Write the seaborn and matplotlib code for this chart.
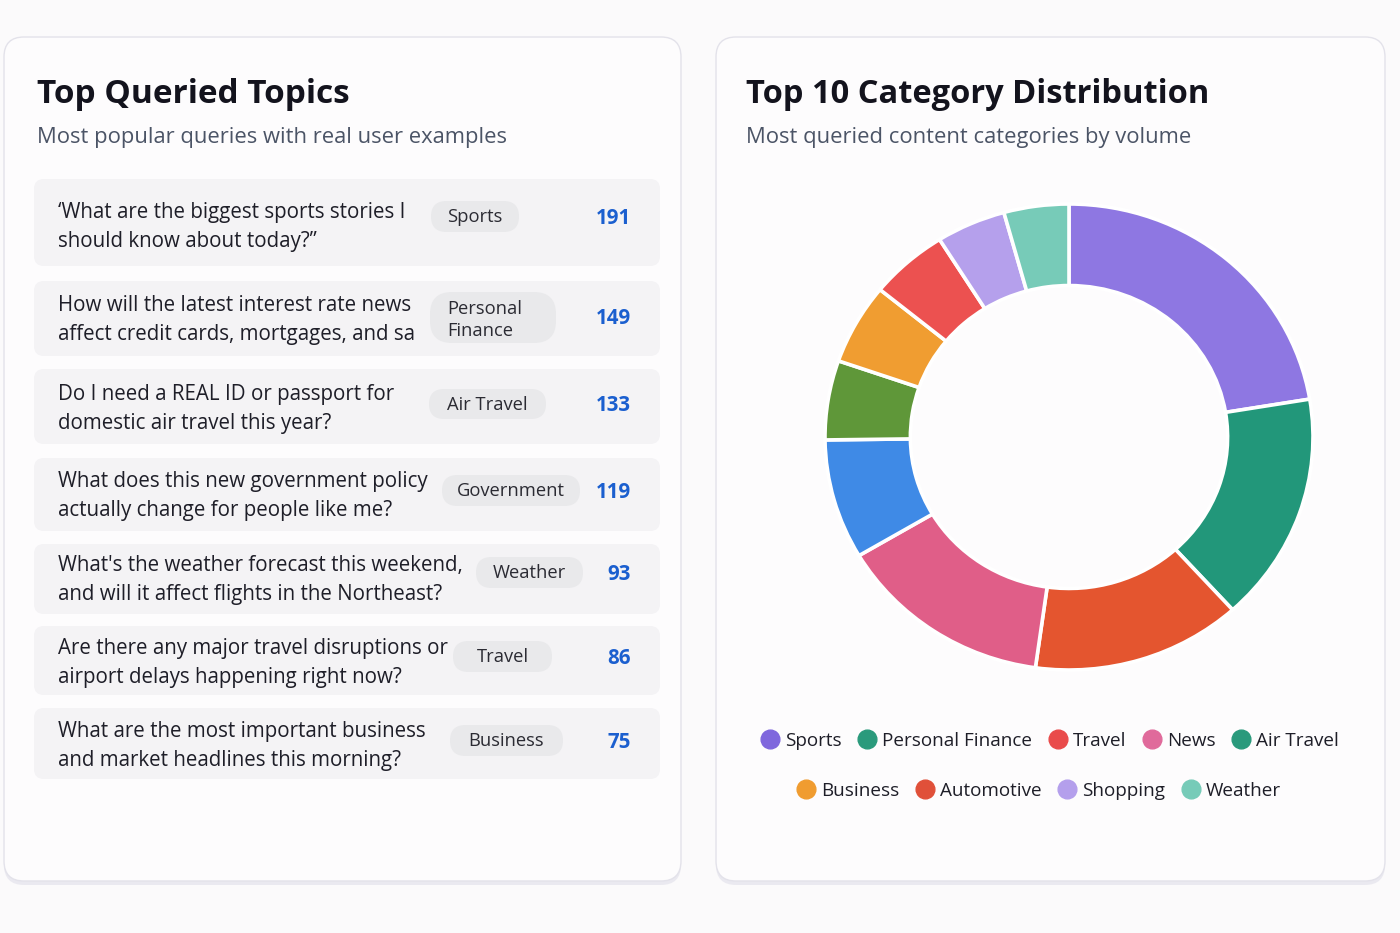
import matplotlib
matplotlib.use("Agg")
import matplotlib.pyplot as plt
import seaborn as sns
from matplotlib.patches import FancyBboxPatch
from matplotlib.lines import Line2D

# ---------------- data ----------------
query_texts = [
    "\u2018What are the biggest sports stories I\nshould know about today?\u201d",
    "How will the latest interest rate news\naffect credit cards, mortgages, and sa",
    "Do I need a REAL ID or passport for\ndomestic air travel this year?",
    "What does this new government policy\nactually change for people like me?",
    "What's the weather forecast this weekend,\nand will it affect flights in the Northeast?",
    "Are there any major travel disruptions or\nairport delays happening right now?",
    "What are the most important business\nand market headlines this morning?",
]
query_tags = ["Sports", "Personal\nFinance", "Air Travel", "Government", "Weather", "Travel", "Business"]
query_counts = [191, 149, 133, 119, 93, 86, 75]

categories = ["Sports", "Personal Finance", "Travel", "News", "Government",
              "Air Travel", "Business", "Automotive", "Shopping", "Weather"]
category_share = [22.4, 15.9, 13.9, 14.3, 8.3, 5.5, 5.6, 5.2, 4.6, 4.3]
category_colors = ["#8e77e2", "#22977a", "#e4552f", "#e05e88", "#3f8ae6",
                   "#5f9739", "#f09d31", "#ec5150", "#b5a0ec", "#77cbb8"]

legend_row1 = ["Sports", "Personal Finance", "Travel", "News", "Air Travel"]
legend_row1_colors = ["#7f67dd", "#2a9a7c", "#e94b4b", "#e06a9b", "#2a9a7c"]
legend_row2 = ["Business", "Automotive", "Shopping", "Weather"]
legend_row2_colors = ["#f09c30", "#e05039", "#b49fec", "#76cbb8"]

# ---------------- layout (pixels) ----------------
W, H = 1400, 933
row_boxes = [(179, 266), (281, 356), (369, 444), (458, 531), (544, 614), (626, 695), (708, 779)]
line1_base = [218, 311, 400, 487, 571, 654, 737]
pill_boxes = [(431, 201, 519, 232), (430, 292, 556, 343), (429, 389, 546, 419),
              (442, 475, 580, 506), (476, 557, 583, 588), (453, 641, 552, 672),
              (450, 725, 563, 756)]

sns.set_theme(style="white")
plt.rcParams["font.family"] = ["Open Sans", "DejaVu Sans"]

BG = "#fbfafb"
CARD = "#fdfcfd"
fig = plt.figure(figsize=(W / 100, H / 100), dpi=100, facecolor=BG)
ax0 = fig.add_axes([0, 0, 1, 1])
ax0.set_xlim(0, W)
ax0.set_ylim(H, 0)
ax0.axis("off")
ax0.set_facecolor(BG)

def rbox(x0, y0, x1, y1, r, fc, ec="none", lw=0, z=1, alpha=1.0):
    p = FancyBboxPatch((x0, y0), x1 - x0, y1 - y0,
                       boxstyle=f"round,pad=0,rounding_size={r}",
                       fc=fc, ec=ec, lw=lw, zorder=z, alpha=alpha)
    ax0.add_patch(p)
    return p

# cards with soft shadow
for (x0, x1) in [(4, 681), (716, 1385)]:
    rbox(x0, 40, x1, 885, 20, "#e4e3ec", z=0.5, alpha=0.7)
    rbox(x0, 37, x1, 881, 20, CARD, ec="#e3e2ea", lw=1.0, z=1)

TITLE_C = "#13131d"
SUB_C = "#4b5466"
TXT_C = "#1e1e28"

ax0.text(37, 103, "Top Queried Topics", fontsize=24, fontweight="bold",
         color=TITLE_C, va="baseline", ha="left", zorder=3)
ax0.text(37, 143, "Most popular queries with real user examples", fontsize=15.8,
         color=SUB_C, va="baseline", ha="left", zorder=3)
ax0.text(746, 103, "Top 10 Category Distribution", fontsize=23.5, fontweight="bold",
         color=TITLE_C, va="baseline", ha="left", zorder=3)
ax0.text(746, 143, "Most queried content categories by volume", fontsize=15.8,
         color=SUB_C, va="baseline", ha="left", zorder=3)

# query rows
for i, (txt, tag, cnt) in enumerate(zip(query_texts, query_tags, query_counts)):
    top, bot = row_boxes[i]
    rbox(34, top, 660, bot, 10, "#f4f3f5", z=2)
    l1, l2 = txt.split("\n")
    ax0.text(58, line1_base[i], l1, fontsize=14.8, color=TXT_C, va="baseline", ha="left", zorder=3)
    ax0.text(58, line1_base[i] + 29, l2, fontsize=14.8, color=TXT_C, va="baseline", ha="left", zorder=3)
    px0, py0, px1, py1 = pill_boxes[i]
    rbox(px0, py0, px1, py1, (py1 - py0) / 2 if "\n" not in tag else 22, "#e9e9eb", z=3)
    pcy = (py0 + py1) / 2
    if "\n" in tag:
        t1, t2 = tag.split("\n")
        ax0.text(px0 + 17, pcy - 4, t1, fontsize=13.2, color="#2b2b33", va="baseline", ha="left", zorder=4)
        ax0.text(px0 + 17, pcy + 19, t2, fontsize=13.2, color="#2b2b33", va="baseline", ha="left", zorder=4)
    else:
        ax0.text((px0 + px1) / 2, pcy + 6, tag, fontsize=13.2, color="#2b2b33",
                 va="baseline", ha="center", zorder=4)
    ax0.text(631, pcy + 7, str(cnt), fontsize=14.8, fontweight="bold", color="#1b5fcf",
             va="baseline", ha="right", zorder=4)

# donut
cx, cy, rx, ry = 1069, 437, 244, 233
half_w, half_h = 252, 241
axd = fig.add_axes([(cx - half_w) / W, 1 - (cy + half_h) / H, 2 * half_w / W, 2 * half_h / H])
pal = sns.color_palette(category_colors)
axd.pie(category_share, colors=pal, startangle=90, counterclock=False, radius=1,
        wedgeprops=dict(width=0.35, edgecolor="white", linewidth=2.6))
axd.set_aspect("auto")
axd.set_xlim(-half_w / rx, half_w / rx)
axd.set_ylim(-half_h / ry, half_h / ry)
axd.axis("off")

def make_legend(labels, colors, xc, yc):
    handles = [Line2D([], [], marker="o", ls="", markersize=13.5, markerfacecolor=c,
                      markeredgecolor=c) for c in colors]
    leg = fig.legend(handles, labels, ncol=len(labels), loc="center",
                     bbox_to_anchor=(xc / W, 1 - yc / H), frameon=False,
                     fontsize=13.6, handletextpad=0.3, columnspacing=0.85,
                     handlelength=1.0, labelcolor="#1e1e28")
    return leg

make_legend(legend_row1, legend_row1_colors, 1050, 741)
make_legend(legend_row2, legend_row2_colors, 1039, 791)

fig.savefig("out.png", dpi=100, facecolor=BG)
